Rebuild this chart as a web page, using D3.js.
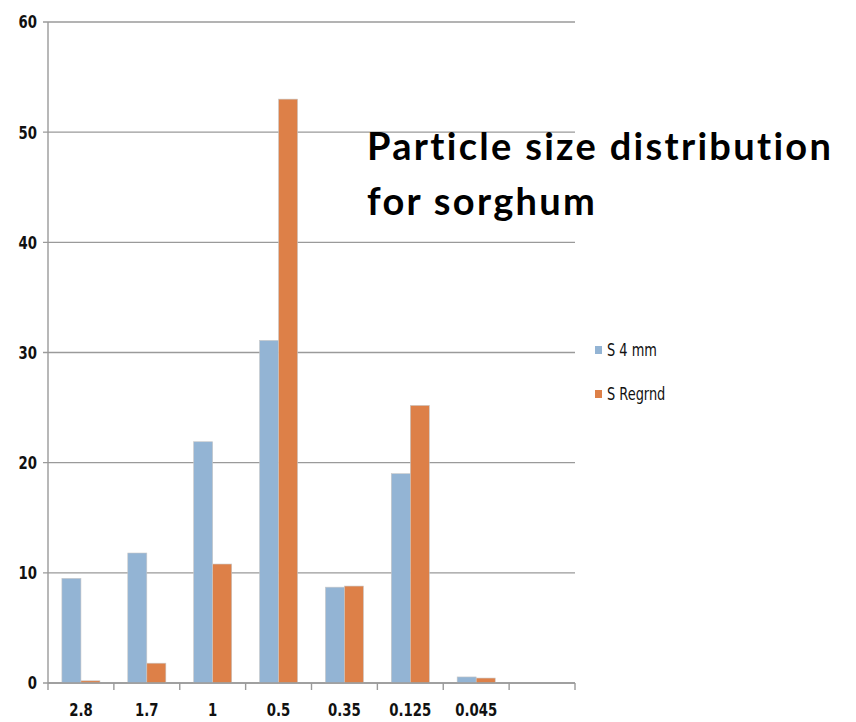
<!DOCTYPE html>
<html>
<head>
<meta charset="utf-8">
<script src="https://cdn.jsdelivr.net/npm/d3@7"></script>
<style>
  body { margin: 0; background: #fff; }
</style>
</head>
<body>
<div class="main"></div>
<script>
// Données
const sizes = ['2.8', '1.7', '1', '0.5', '0.35', '0.125', '0.045', ''];
const series = ['S 4 mm', 'S Regrnd'];
const s4mm = [9.5, 11.8, 21.9, 31.1, 8.7, 19.0, 0.55, null];
const sRegrnd = [0.2, 1.8, 10.8, 53.0, 8.8, 25.2, 0.45, null];
const yTicks = [0, 10, 20, 30, 40, 50, 60];
const colors = ['#93B4D4', '#DD8048'];

const width = 856;
const height = 722;
const margin = { top: 22, right: 281, bottom: 39, left: 48 };

const svg = d3.select('.main')
  .append('svg')
  .attr('width', width)
  .attr('height', height);

const axisFont = "'DejaVu Sans Condensed', sans-serif";

// Echelles
const x = d3.scaleBand()
  .domain(sizes)
  .range([margin.left, width - margin.right])
  .padding(0);

const xSub = d3.scaleBand()
  .domain(series)
  .range([0, x.bandwidth()])
  .paddingInner(0)
  .paddingOuter(0.73);

const y = d3.scaleLinear()
  .domain([0, 60])
  .range([height - margin.bottom, margin.top]);

// Grille horizontale
svg.append('g')
  .selectAll('line')
  .data(yTicks)
  .enter()
  .append('line')
  .attr('x1', margin.left - 5)
  .attr('x2', width - margin.right)
  .attr('y1', d => y(d))
  .attr('y2', d => y(d))
  .attr('stroke', '#9a9a9a')
  .attr('stroke-width', 1.4);

// Axe vertical
svg.append('line')
  .attr('x1', margin.left)
  .attr('x2', margin.left)
  .attr('y1', y(60))
  .attr('y2', y(0))
  .attr('stroke', '#9a9a9a')
  .attr('stroke-width', 1.4);

// étiquettes étroites : police condensée comprimée horizontalement
svg.append('g')
  .attr('text-anchor', 'end')
  .selectAll('text')
  .data(yTicks)
  .enter()
  .append('text')
  .attr('transform', d => `translate(${margin.left - 11},${y(d)}) scale(0.82,1)`)
  .attr('dy', '0.36em')
  .style('font', `bold 18px ${axisFont}`)
  .attr('fill', '#111')
  .text(d => d);

// Barres
const data = sizes.map((s, i) => ({ size: s, values: [s4mm[i], sRegrnd[i]] }));

const groups = svg.append('g')
  .selectAll('g')
  .data(data)
  .enter()
  .append('g')
  .attr('transform', d => `translate(${x(d.size)},0)`);

groups.selectAll('rect')
  .data(d => d.values.map((v, k) => ({ key: series[k], value: v, k: k })).filter(e => e.value !== null))
  .enter()
  .append('rect')
  .attr('x', d => xSub(d.key))
  .attr('width', xSub.bandwidth())
  .attr('y', d => y(d.value))
  .attr('height', d => y(0) - y(d.value))
  .attr('fill', d => colors[d.k])
  .attr('stroke', '#c8c8c8')
  .attr('stroke-width', 0.6);

// Axe horizontal
const xAxis = svg.append('g');
xAxis.append('line')
  .attr('x1', margin.left)
  .attr('x2', width - margin.right)
  .attr('y1', y(0))
  .attr('y2', y(0))
  .attr('stroke', '#9a9a9a')
  .attr('stroke-width', 1.4);

const tickPos = sizes.map(s => x(s)).concat([x.range()[1]]);
xAxis.selectAll('.tick')
  .data(tickPos)
  .enter()
  .append('line')
  .attr('x1', d => d)
  .attr('x2', d => d)
  .attr('y1', y(0))
  .attr('y2', y(0) + 7)
  .attr('stroke', '#9a9a9a')
  .attr('stroke-width', 1.4);

xAxis.selectAll('text')
  .data(sizes)
  .enter()
  .append('text')
  .attr('transform', d => `translate(${x(d) + x.bandwidth() / 2},${height - 6}) scale(0.82,1)`)
  .attr('text-anchor', 'middle')
  .style('font', `bold 18px ${axisFont}`)
  .attr('fill', '#111')
  .text(d => d);

// Légende
const legend = svg.append('g')
  .selectAll('g')
  .data(series)
  .enter()
  .append('g')
  .attr('transform', (d, i) => `translate(595, ${346 + i * 44})`);

legend.append('rect')
  .attr('width', 7)
  .attr('height', 8)
  .attr('fill', (d, i) => colors[i]);

legend.append('text')
  .attr('transform', 'translate(12,4) scale(0.8,1)')
  .attr('dy', '0.36em')
  .style('font', `18px ${axisFont}`)
  .attr('fill', '#111')
  .text(d => d);

// Titre
const title = svg.append('text')
  .attr('x', 367)
  .attr('y', 160)
  .style('font', "bold 38px 'Lato', 'DejaVu Sans', sans-serif")
  .style('letter-spacing', '2.3px')
  .attr('fill', '#000');
title.append('tspan').attr('x', 367).text('Particle size distribution');
title.append('tspan').attr('x', 367).attr('dy', 55).text('for sorghum');
</script>
</body>
</html>
